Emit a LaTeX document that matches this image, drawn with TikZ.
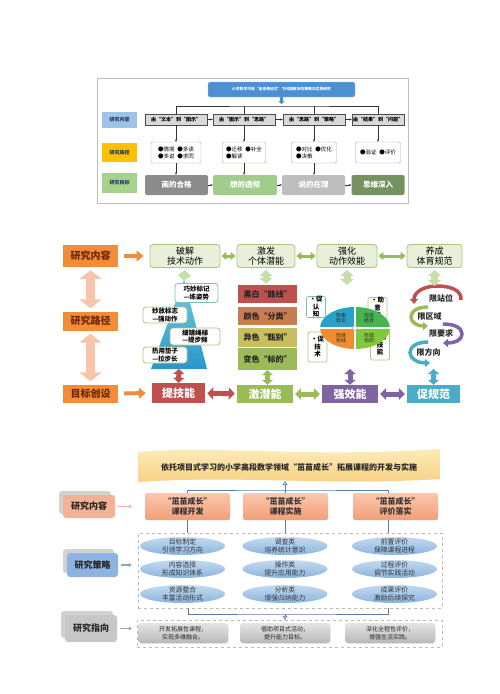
\documentclass[tikz,border=0pt]{standalone}
\usepackage{fontspec}
\setmainfont{Noto Sans CJK SC}
\usetikzlibrary{arrows.meta,shapes.geometric,shadows,calc}
\definecolor{tblue}{RGB}{74,144,210}
\definecolor{lblue}{RGB}{157,195,230}
\definecolor{lgold}{RGB}{255,192,0}
\definecolor{lgreen}{RGB}{169,209,142}
\definecolor{cgrey}{RGB}{140,140,140}
\definecolor{cgreen}{RGB}{160,205,140}
\definecolor{clgrey}{RGB}{190,190,190}
\definecolor{cdgreen}{RGB}{118,146,96}
\definecolor{navyt}{RGB}{31,56,100}
\definecolor{morange}{RGB}{242,140,56}
\definecolor{mbrown}{RGB}{110,40,10}
\definecolor{msalmon}{RGB}{248,196,170}
\definecolor{tgF}{RGB}{232,240,218}
\definecolor{tgB}{RGB}{170,200,125}
\definecolor{garrow}{RGB}{155,187,89}
\definecolor{lgarrow}{RGB}{200,222,170}
\definecolor{cred}{RGB}{192,80,77}
\definecolor{cbrown}{RGB}{200,125,80}
\definecolor{colive}{RGB}{200,190,95}
\definecolor{cgrn}{RGB}{155,187,89}
\definecolor{cpurp}{RGB}{128,100,162}
\definecolor{ccyan}{RGB}{75,172,198}
\definecolor{pyrT}{RGB}{120,205,225}
\definecolor{pyrB}{RGB}{40,150,200}
\definecolor{plB}{RGB}{120,195,185}
\definecolor{pieA}{RGB}{40,160,200}
\definecolor{pieB}{RGB}{70,180,80}
\definecolor{pieC}{RGB}{240,140,50}
\definecolor{pieD}{RGB}{130,200,60}
\definecolor{bannerA}{RGB}{253,238,190}
\definecolor{bannerB}{RGB}{247,206,125}
\definecolor{bline}{RGB}{90,125,165}
\definecolor{salA}{RGB}{250,200,175}
\definecolor{salB}{RGB}{243,158,118}
\definecolor{lsal}{RGB}{242,178,150}
\definecolor{ellA}{RGB}{195,218,240}
\definecolor{ellB}{RGB}{140,180,222}
\definecolor{stblue}{RGB}{141,179,226}
\definecolor{hgA}{RGB}{228,228,228}
\definecolor{hgB}{RGB}{185,185,185}
\begin{document}
\begin{tikzpicture}[x=1pt,y=-1pt,
 lab/.style={minimum width=35, minimum height=16, inner sep=0, text=navyt, font={\fontsize{5}{6}\selectfont\bfseries}},
 rowa/.style={draw=black!70, fill=black!15, minimum width=62, minimum height=11, inner sep=0, font={\fontsize{5}{6}\selectfont\bfseries}},
 rowb/.style={draw=black!35, fill=white, rounded corners=2, minimum height=21, inner sep=1, font={\fontsize{5.5}{7}\selectfont}, align=left},
 rowc/.style={rounded corners=2, minimum height=20, inner sep=0, text=white, font={\fontsize{7.5}{8}\selectfont\bfseries}},
 tarr/.style={-{Stealth[length=2.5,width=2.2]}, black!80, line width=0.45},
 tline/.style={black!80, line width=0.5},
 orlab/.style={fill=morange, minimum width=55, inner sep=0, text=mbrown, font={\fontsize{10}{11}\selectfont\bfseries}},
 topbox/.style={draw=tgB, fill=tgF, rounded corners=3, minimum height=23, align=center, inner sep=0, line width=0.8, font={\fontsize{9}{10.5}\selectfont}},
 botbox/.style={minimum height=18, inner sep=0, text=white, font={\fontsize{11}{12}\selectfont\bfseries}},
 bigdarr/.style={msalmon, line width=9, {Triangle[length=9,width=22]}-{Triangle[length=9,width=22]}, shorten <=3, shorten >=3},
 orarr/.style={morange, line width=4, -{Triangle[length=7,width=11]}, shorten <=6, shorten >=6},
 grdarr/.style={line width=3, {Triangle[length=5,width=8]}-{Triangle[length=5,width=8]}, shorten <=1, shorten >=1},
 lgdarr/.style={lgarrow, line width=7, {Triangle[length=6,width=13]}-{Triangle[length=6,width=13]}, shorten <=2, shorten >=1},
 vdarr/.style={line width=5, {Triangle[length=5,width=11]}-{Triangle[length=5,width=11]}},
 hdarr/.style={line width=5, {Triangle[length=6,width=12]}-{Triangle[length=6,width=12]}, shorten <=2, shorten >=2},
 plab/.style={draw=plB, fill=white, rounded corners=3, line width=0.8, align=center, inner sep=0, font={\fontsize{6.5}{7.5}\selectfont\bfseries}},
 cbar/.style={minimum width=59, inner sep=0, text=black!85, font={\fontsize{8}{9}\selectfont\bfseries}},
 sbox/.style={draw=plB, fill=white, rounded corners=2, line width=0.7, align=center, inner sep=0, minimum width=19, font={\fontsize{6.5}{7.5}\selectfont\bfseries}},
 qtext/.style={align=center, inner sep=0, text=black!85, font={\fontsize{5}{5.8}\selectfont}},
 xian/.style={inner sep=0, text=black!85, font={\fontsize{8}{9}\selectfont\bfseries}},
 harr/.style={line width=3.5, -{Triangle[length=5,width=8]}},
 bl/.style={bline, line width=0.7},
 elab/.style={rounded corners=3, inner sep=0, minimum width=52, text=black!85, font={\fontsize{9}{10}\selectfont\bfseries}, general shadow={fill=black!18, shadow xshift=-4pt, shadow yshift=4pt}},
 dbox/.style={top color=salA, bottom color=salB, rounded corners=2, minimum width=85, minimum height=27, inner sep=0, align=center, text=black!80, font={\fontsize{8}{9.5}\selectfont\bfseries}},
 ellb/.style={ellipse, top color=ellA, bottom color=ellB, minimum width=85, minimum height=18, inner sep=0},
 ellt/.style={align=center, inner sep=0, text=black!80, font={\fontsize{6.8}{7.8}\selectfont}},
 hbox/.style={top color=hgA, bottom color=hgB, rounded corners=3, minimum width=90, minimum height=20, inner sep=0, align=center, text=black!85, font={\fontsize{6}{7.5}\selectfont}, drop shadow={fill=black!15, shadow xshift=1pt, shadow yshift=-1pt}},
 sarr/.style={lsal, line width=1.3, -{Triangle[length=3,width=4]}}
]
\useasboundingbox (0,0) rectangle (500,694);
\fill[white] (0,0) rectangle (500,694);

% ================= TOP DIAGRAM =================
\draw[black!25, line width=0.6] (97,78) rectangle (408,203);
\node[fill=tblue, draw=tblue!50!white, rounded corners=2, text=white, font={\fontsize{3.8}{4.5}\selectfont\bfseries}, minimum width=147, minimum height=15, inner sep=1] (T) at (281.5,89.5) {小学数学中段“信息表征式”下问题解决的策略与实践研究};
\coordinate (TJ) at (281.5,106);
\coordinate (TA) at (281.5,104);
\draw[tblue, line width=2.5, -{Triangle[length=3,width=6]}] (T.south) -- (TA);

\node[lab, fill=lblue] (L1) at (119.5,120) {研究内容};
\node[lab, fill=lgold, minimum height=19] (L2) at (119.5,152.5) {研究路径};
\node[lab, fill=lgreen, minimum height=20] (L3) at (119.5,183) {研究目标};

\node[rowa] (A1) at (176,119.5) {由“文本”到“图示”};
\node[rowa] (A2) at (244,119.5) {由“图示”到“思路”};
\node[rowa] (A3) at (314,119.5) {由“思路”到“策略”};
\node[rowa, minimum width=52] (A4) at (378,119.5) {由“结果”到“问题”};
\draw[tarr] (A1) -- (A2);
\draw[tarr] (A2) -- (A3);
\draw[tarr] (A3) -- (A4);
\draw[tline] (A1.north) |- (TJ) -| (A4.north);
\draw[tline] (A2.north) -- (A2.north |- TJ);
\draw[tline] (A3.north) -- (A3.north |- TJ);

\node[rowb, minimum width=50] (B1) at (176,152.5) {●情境\enspace●多读\\●多说\enspace●求同};
\node[rowb, minimum width=43] (B2) at (244,152.5) {●迁移\enspace●补全\\●解读};
\node[rowb, minimum width=45] (B3) at (314,152.5) {●对比\enspace●优化\\●决策};
\node[rowb, minimum width=45] (B4) at (378,152.5) {●验证\enspace●评价};
\draw[tarr] (A1) -- (B1);
\draw[tarr] (A2) -- (B2);
\draw[tarr] (A3) -- (B3);
\draw[tarr] (A4) -- (B4);

\node[rowc, fill=cgrey, minimum width=63] (C1) at (176.5,185) {画的合格};
\node[rowc, fill=cgreen, minimum width=64] (C2) at (245,185) {想的透彻};
\node[rowc, fill=clgrey, minimum width=63] (C3) at (313.5,185) {说的在理};
\node[rowc, fill=cdgreen, minimum width=53] (C4) at (378,185) {思维深入};
\draw[tarr] (B1) -- (B1.south |- C1.north);
\draw[tarr] (B2) -- (B2.south |- C2.north);
\draw[tarr] (B3) -- (B3.south |- C3.north);
\draw[tarr] (C1) -- (C2);
\draw[tarr] (C2) -- (C3);
\draw[tarr] (C3) -- (C4);

% ================= MIDDLE DIAGRAM =================
\node[orlab, minimum height=22] (M1) at (90.5,256) {研究内容};
\node[orlab, minimum height=19] (M2) at (90.5,321) {研究路径};
\node[orlab, minimum height=18] (M3) at (90.5,393.5) {目标创设};
\draw[bigdarr] (M1) -- (M2);
\draw[bigdarr] (M2) -- (M3);

\node[topbox, minimum width=70] (P1) at (185,256) {破解\\技术动作};
\node[topbox, minimum width=58] (P2) at (266,256) {激发\\个体潜能};
\node[topbox, minimum width=60] (P3) at (347,256) {强化\\动作效能};
\node[topbox, minimum width=55] (P4) at (434.5,256) {养成\\体育规范};
\draw[orarr] (M1) -- (P1);
\draw[grdarr, garrow] (P1) -- (P2);
\draw[grdarr, garrow] (P2) -- (P3);
\draw[grdarr, garrow] (P3) -- (P4);

% pyramid
\shade[top color=pyrT, bottom color=pyrB] (184,279) -- (151,369) -- (207,369) -- cycle;
\coordinate (PYt) at (184,282);
\coordinate (PYb) at (179,369);
\node[plab, minimum width=43, minimum height=19] (Q1) at (196.5,293) {巧妙标记\\—练姿势};
\node[plab, minimum width=44, minimum height=16, draw=tgB] (Q2) at (165,315) {妙放标志\\—强动作};
\node[plab, minimum width=50, minimum height=17, draw=tgB] (Q3) at (195,336.5) {细铺绳梯\\—提步频};
\node[plab, minimum width=44, minimum height=16, draw=tgB] (Q4) at (165,355) {热用垫子\\—拉步长};
\draw[lgdarr] (P1.south) -- (PYt);

% colour bars
\node[cbar, fill=cred, minimum height=18] (K1) at (267.5,294) {黑白“路线”};
\node[cbar, fill=cbrown, minimum height=18] (K2) at (267.5,316) {颜色“分类”};
\node[cbar, fill=colive, minimum height=19] (K3) at (267.5,337.5) {异色“甄别”};
\node[cbar, fill=cgrn, minimum height=22] (K4) at (267.5,359) {变色“标的”};
\draw[lgdarr] (P2.south) -- (P2.south |- K1.north);

% pie
\node[sbox, minimum height=21] (S1) at (316,307) {•促\\认\\知};
\node[sbox, minimum height=21, draw=tgB] (S2) at (377.5,308) {•助\\意\\识};
\node[sbox, minimum height=30, draw=tgB] (S3) at (317.5,347) {•促\\技\\术};
\node[sbox, minimum height=30, draw=tgB] (S4) at (380,345) {•助\\技\\能};
\begin{scope}
\clip (355,328) ellipse [x radius=35, y radius=21];
\fill[pieA] (318,305) rectangle (354,327);
\fill[pieB] (356,305) rectangle (392,327);
\fill[pieC] (318,329) rectangle (354,352);
\fill[pieD] (356,329) rectangle (392,352);
\end{scope}
\node[circle, draw=gray!60, fill=white, minimum size=5, inner sep=0, line width=0.6] (PC) at (355,328) {};
\node[qtext] (U1) at (341,318) {形象\\标识};
\node[qtext] (U2) at (369,318) {形态\\结合};
\node[qtext] (U3) at (341,338) {形体\\标线};
\node[qtext] (U4) at (369,338) {形效\\标的};
\coordinate (PIt) at (347,286);
\coordinate (PIb) at (350,369);
\draw[lgdarr] (P3.south) -- (PIt);

% circular arrows
\node[xian] (R1) at (441,298.5) {限站位};
\node[xian] (R2) at (429.5,316.5) {限区域};
\node[xian] (R3) at (441,333.5) {限要求};
\node[xian] (R4) at (428.5,352.5) {限方向};
\draw[harr, cred] (461,300) .. controls (462,290) and (450,286) .. (437,286) .. controls (424,286) and (414,292) .. (414,304);
\draw[harr, garrow] (428,307) .. controls (418,307) and (411,311) .. (411,317) .. controls (411,323) and (418,326) .. (428,326);
\draw[harr, cpurp] (443,324) .. controls (455,324) and (462,328) .. (462,334) .. controls (462,340) and (455,343) .. (443,343);
\draw[harr, ccyan] (428,342) .. controls (418,342) and (410,346) .. (410,352.5) .. controls (410,359) and (418,363) .. (430,363);
\coordinate (XRt) at (434.5,287);
\coordinate (XRb) at (433.5,369);
\draw[lgdarr] (P4.south) -- (XRt);

% bottom row
\node[botbox, fill=cred, minimum width=53, minimum height=20] (N1) at (178.5,393) {提技能};
\node[botbox, fill=cgrn, minimum width=56] (N2) at (265,394) {激潜能};
\node[botbox, fill=cpurp, minimum width=56] (N3) at (350,394) {强效能};
\node[botbox, fill=ccyan, minimum width=53] (N4) at (433.5,394) {促规范};
\draw[orarr] (M3) -- (N1);
\draw[hdarr, cred] (N1) -- (N2);
\draw[hdarr, cgrn] (N2) -- (N3);
\draw[hdarr, cpurp] (N3) -- (N4);
\draw[vdarr, cred] (PYb) -- (N1.north);
\draw[vdarr, cgrn] (K4.south) -- (K4.south |- N2.north);
\draw[vdarr, cpurp] (PIb) -- (N3.north);
\draw[vdarr, ccyan] (XRb) -- (N4.north);

% ================= BOTTOM DIAGRAM =================
\shade[top color=bannerA, bottom color=bannerB] (138,452) .. controls (220,445) and (300,458) .. (440,449) -- (440,479) .. controls (330,486) and (240,475) .. (138,482) -- cycle;
\node[inner sep=0, text=black!85, font={\fontsize{8}{9}\selectfont\bfseries}] (BT) at (289,467) {依托项目式学习的小学高段数学领域“茁苗成长”拓展课程的开发与实施};
\coordinate (BB) at (285,481);
\coordinate (J) at (285,490);

\node[dbox] (D1) at (187.5,506.5) {“茁苗成长”\\课程开发};
\node[dbox] (D2) at (285.5,506.5) {“茁苗成长”\\课程实施};
\node[dbox] (D3) at (395.5,506.5) {“茁苗成长”\\评价落实};
\draw[bl] (D1.north) |- (J) -| ([xshift=-7.5pt]D3.north);
\draw[bl] (D2.north) -- (D2.north |- J);
\draw[bl, -{Triangle[open,length=4,width=5]}] (J) -- (BB);

\node[elab, fill=lsal, minimum height=23] (E1) at (89,506.5) {研究内容};
\node[elab, fill=stblue, minimum width=51, minimum height=24] (E2) at (92.5,565) {研究策略};
\node[elab, fill=black!22, minimum height=27] (E3) at (91,628.5) {研究指向};

\node[draw=gray!55, dashed, minimum width=304, minimum height=75, inner sep=0] (F) at (290,570.5) {};
\node[draw=gray!55, dashed, minimum width=305, minimum height=27, inner sep=0] (G) at (289.5,633.5) {};
\draw[sarr, shorten <=3, shorten >=13] (E1) -- (D1);
\draw[sarr, bline!70, shorten <=3, shorten >=6] (E2) -- (E2 -| F.west);
\draw[sarr, black!35, shorten <=3, shorten >=5] (E3) -- (E3 -| G.west);

\draw[bl] (D1.south) -- (D1.south |- F.north);
\draw[bl] (D2.south) -- (D2.south |- F.north);
\draw[bl] ([xshift=-7.5pt]D3.south) -- ([xshift=-7.5pt]D3.south |- F.north);

\node[ellb] (G11) at (182.5,546) {};
\node[ellb] (G21) at (182.5,569) {};
\node[ellb] (G31) at (182.5,594) {};
\node[ellb] (G12) at (285,546) {};
\node[ellb] (G22) at (285,569) {};
\node[ellb] (G32) at (285,594) {};
\node[ellb] (G13) at (394.5,546) {};
\node[ellb] (G23) at (394.5,569) {};
\node[ellb] (G33) at (394.5,594) {};
\node[ellt] (G11t) at (G11) {目标制定\\引领学习方向};
\node[ellt] (G21t) at (G21) {内容选择\\形成知识体系};
\node[ellt] (G31t) at (G31) {资源整合\\丰富活动形式};
\node[ellt] (G12t) at (G12) {调查类\\培养统计意识};
\node[ellt] (G22t) at (G22) {操作类\\提升应用能力};
\node[ellt] (G32t) at (G32) {分析类\\增强归纳能力};
\node[ellt] (G13t) at (G13) {前置评价\\保障课程进程};
\node[ellt] (G23t) at (G23) {过程评价\\调节实践活动};
\node[ellt] (G33t) at (G33) {成果评价\\激励后续探究};

\coordinate (W1) at (188,608);
\coordinate (W2) at (388,608);
\coordinate (WJ) at (285,614);
\draw[bl] (W1) |- (WJ) -| (W2);
\draw[bl, -{Triangle[open,length=4,width=5]}] (WJ) -- (WJ |- G.north);

\node[hbox] (H1) at (183,633) {开发拓展性课程，\\实现多维融合。};
\node[hbox] (H2) at (285,633) {借助项目式活动，\\提升能力目标。};
\node[hbox] (H3) at (390,633) {深化全程性评价，\\增强生活实践。};
\end{tikzpicture}
\end{document}
